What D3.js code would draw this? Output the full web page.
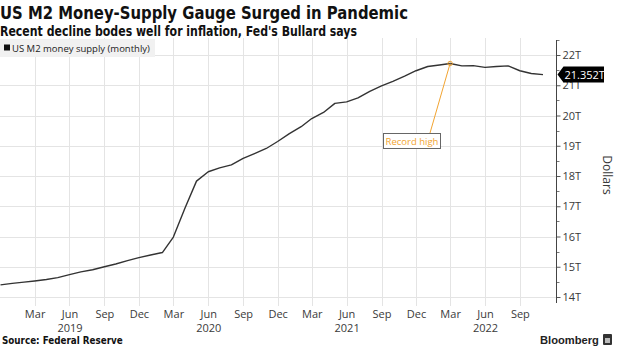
<!DOCTYPE html>
<html>
<head>
<meta charset="utf-8">
<script src="https://cdn.jsdelivr.net/npm/d3@7"></script>
<style>
  html, body { margin: 0; padding: 0; background: #fff; }
  svg { display: block; }
</style>
</head>
<body>
<script>
// ---------- data ----------
const months = [
  "2018-12","2019-01","2019-02","2019-03","2019-04","2019-05","2019-06","2019-07","2019-08","2019-09","2019-10","2019-11",
  "2019-12","2020-01","2020-02","2020-03","2020-04","2020-05","2020-06","2020-07","2020-08","2020-09","2020-10","2020-11",
  "2020-12","2021-01","2021-02","2021-03","2021-04","2021-05","2021-06","2021-07","2021-08","2021-09","2021-10","2021-11",
  "2021-12","2022-01","2022-02","2022-03","2022-04","2022-05","2022-06","2022-07","2022-08","2022-09","2022-10","2022-11"
];
const m2Trillions = [
  14.40,14.45,14.49,14.53,14.58,14.64,14.74,14.83,14.90,15.00,15.09,15.20,
  15.30,15.39,15.47,15.98,16.95,17.83,18.14,18.27,18.37,18.58,18.74,18.91,
  19.14,19.40,19.63,19.90,20.10,20.40,20.45,20.58,20.80,20.98,21.13,21.30,
  21.48,21.62,21.67,21.72,21.64,21.65,21.59,21.62,21.64,21.48,21.39,21.352
];
const yTickValues = [14,15,16,17,18,19,20,21,22];
const xTickMonths = ["2019-03","2019-06","2019-09","2019-12","2020-03","2020-06","2020-09","2020-12",
                     "2021-03","2021-06","2021-09","2021-12","2022-03","2022-06","2022-09"];
const monthNames = ["Jan","Feb","Mar","Apr","May","Jun","Jul","Aug","Sep","Oct","Nov","Dec"];
const title = "US M2 Money-Supply Gauge Surged in Pandemic";
const subtitle = "Recent decline bodes well for inflation, Fed's Bullard says";
const legendLabel = "US M2 money supply (monthly)";
const annotationLabel = "Record high";
const lastValueLabel = "21.352T";
const source = "Source: Federal Reserve";

// ---------- setup ----------
const W = 620, H = 348;
const parse = d3.utcParse("%Y-%m");
const data = months.map((m, i) => ({ date: parse(m), value: m2Trillions[i] }));

const svg = d3.select("body").append("svg").attr("width", W).attr("height", H);

const x = d3.scaleUtc()
  .domain([data[0].date, data[data.length - 1].date])
  .range([0.5, 543]);
const y = d3.scaleLinear().domain([14, 22]).range([297, 55]);

const plotTop = 38, plotBottom = 306, axisX = 556.5;
const gridColor = "#e4e4e4";
const textColor = "#3a3a3a";
const axisFont = "'Open Sans', 'Noto Sans', sans-serif";
const titleFont = "'DejaVu Sans Condensed', 'DejaVu Sans', sans-serif";

// ---------- grid ----------
const tickDates = xTickMonths.map(parse);
svg.append("g").selectAll("line").data(tickDates).join("line")
  .attr("x1", d => Math.round(x(d)) + 0.5).attr("x2", d => Math.round(x(d)) + 0.5)
  .attr("y1", plotTop).attr("y2", plotBottom)
  .attr("stroke", gridColor).attr("stroke-width", 1);

svg.append("g").selectAll("line").data(yTickValues).join("line")
  .attr("x1", 0).attr("x2", axisX)
  .attr("y1", d => Math.round(y(d)) + 0.5).attr("y2", d => Math.round(y(d)) + 0.5)
  .attr("stroke", gridColor).attr("stroke-width", 1);

// ---------- y axis ----------
const yAxis = d3.axisRight(y)
  .tickValues(yTickValues)
  .tickSize(4)
  .tickPadding(2)
  .tickFormat(d => d + "T");
const gy = svg.append("g").attr("transform", `translate(${axisX},0)`).call(yAxis);
gy.select(".domain").remove();
gy.selectAll("line").attr("stroke", "#555");
gy.selectAll("text").attr("fill", textColor).style("font-family", axisFont).style("font-size", "11px");

// minor ticks
const minor = d3.range(13.5, 22.6, 0.5).filter(v => !yTickValues.includes(v) && v >= 13.8);
svg.append("g").selectAll("line").data(minor).join("line")
  .attr("x1", axisX).attr("x2", axisX + 3)
  .attr("y1", d => Math.round(y(d)) + 0.5).attr("y2", d => Math.round(y(d)) + 0.5)
  .attr("stroke", "#777");

svg.append("line")
  .attr("x1", axisX).attr("x2", axisX).attr("y1", 40).attr("y2", 303)
  .attr("stroke", "#444").attr("stroke-width", 1);

// ---------- x axis labels ----------
const xAxis = d3.axisBottom(x)
  .tickValues(tickDates)
  .tickSize(0)
  .tickPadding(0)
  .tickFormat(d => monthNames[d.getUTCMonth()]);
const gx = svg.append("g").attr("transform", `translate(0,${310})`).call(xAxis);
gx.select(".domain").remove();
gx.selectAll("text").attr("fill", textColor).style("font-family", axisFont).style("font-size", "11px").attr("dy", "0.71em");
gx.selectAll(".tick").filter(d => d.getUTCMonth() === 5).append("text")
  .attr("y", 14).attr("dy", "0.71em")
  .attr("fill", textColor).style("font-family", axisFont).style("font-size", "11px")
  .attr("text-anchor", "middle")
  .text(d => d.getUTCFullYear());

// ---------- legend ----------
svg.append("rect").attr("x", 0).attr("y", 39).attr("width", 155).attr("height", 18).attr("fill", "#f1f1f1");
svg.append("rect").attr("x", 4).attr("y", 44.5).attr("width", 6).attr("height", 6).attr("fill", "#111");
const tLeg = svg.append("text").attr("x", 12).attr("y", 51.5).text(legendLabel)
  .attr("fill", "#222").style("font-family", axisFont).style("font-size", "9px");

// ---------- line ----------
const line = d3.line().x(d => x(d.date)).y(d => y(d.value));
svg.append("path").datum(data).attr("d", line)
  .attr("fill", "none").attr("stroke", "#333").attr("stroke-width", 1.4).attr("stroke-linejoin", "round");

// ---------- record high annotation ----------
const peak = data.reduce((a, b) => (b.value > a.value ? b : a));
const px = x(peak.date), py = y(peak.value);
const orange = "#f2a431";
const boxX = 383, boxY = 133, boxW = 57, boxH = 15;
svg.append("line").attr("x1", px).attr("y1", py).attr("x2", boxX + 47).attr("y2", boxY)
  .attr("stroke", orange).attr("stroke-width", 1);
svg.append("circle").attr("cx", px).attr("cy", py).attr("r", 2.2)
  .attr("fill", "none").attr("stroke", orange).attr("stroke-width", 1);
svg.append("rect").attr("x", boxX + 0.5).attr("y", boxY + 0.5).attr("width", boxW).attr("height", boxH)
  .attr("fill", "#fff").attr("stroke", "#666").attr("stroke-width", 1);
svg.append("text").attr("x", boxX + 0.5 + boxW / 2).attr("y", boxY + 11.5).attr("text-anchor", "middle")
  .text(annotationLabel).attr("fill", orange).style("font-family", axisFont).style("font-size", "9.5px");

// ---------- last value label ----------
const last = data[data.length - 1];
const ly = y(last.value);
svg.append("path")
  .attr("d", `M${axisX + 1},${ly} L${axisX + 7},${ly - 8} L${604},${ly - 8} L${604},${ly + 8} L${axisX + 7},${ly + 8} Z`)
  .attr("fill", "#000");
svg.append("text").attr("x", axisX + 8).attr("y", ly + 4).text(lastValueLabel)
  .attr("fill", "#fff").style("font-family", axisFont).style("font-size", "11px");

// ---------- Dollars ----------
svg.append("text").attr("transform", `translate(603,175) rotate(90)`)
  .attr("text-anchor", "middle").text("Dollars")
  .attr("fill", textColor).style("font-family", axisFont).style("font-size", "12px");

// ---------- titles ----------
function fitText(sel, target) {
  const w = sel.node().getComputedTextLength();
  if (w > 0) {
    const fs = parseFloat(sel.style("font-size"));
    sel.style("font-size", (fs * target / w) + "px");
  }
}
function squeeze(sel, target) {
  const w = sel.node().getComputedTextLength();
  if (w > target) sel.attr("textLength", target).attr("lengthAdjust", "spacingAndGlyphs");
  else fitText(sel, target);
}
fitText(tLeg, 138);

const tTitle = svg.append("text").attr("x", 0).attr("y", 19).text(title)
  .attr("fill", "#111").style("font-family", titleFont)
  .style("font-weight", "bold").style("font-size", "18.5px");
squeeze(tTitle, 408);
const tSub = svg.append("text").attr("x", 0).attr("y", 36).text(subtitle)
  .attr("fill", "#111").style("font-family", titleFont)
  .style("font-weight", "bold").style("font-size", "13.5px");
squeeze(tSub, 357);

const tSrc = svg.append("text").attr("x", 2).attr("y", 344).text(source)
  .attr("fill", "#111").style("font-family", titleFont)
  .style("font-weight", "bold").style("font-size", "10px");
fitText(tSrc, 121);

// ---------- Bloomberg mark ----------
const tB = svg.append("text").attr("x", 540).attr("y", 344).text("Bloomberg")
  .attr("fill", "#222").style("font-family", "'Liberation Sans', Arial, sans-serif")
  .style("font-weight", "bold").style("font-size", "12px");
fitText(tB, 59);
svg.append("rect").attr("x", 603).attr("y", 334).attr("width", 9).attr("height", 11).attr("rx", 1).attr("fill", "#333");
svg.append("rect").attr("x", 605).attr("y", 338).attr("width", 5).attr("height", 5).attr("fill", "#bbb");
</script>
</body>
</html>
